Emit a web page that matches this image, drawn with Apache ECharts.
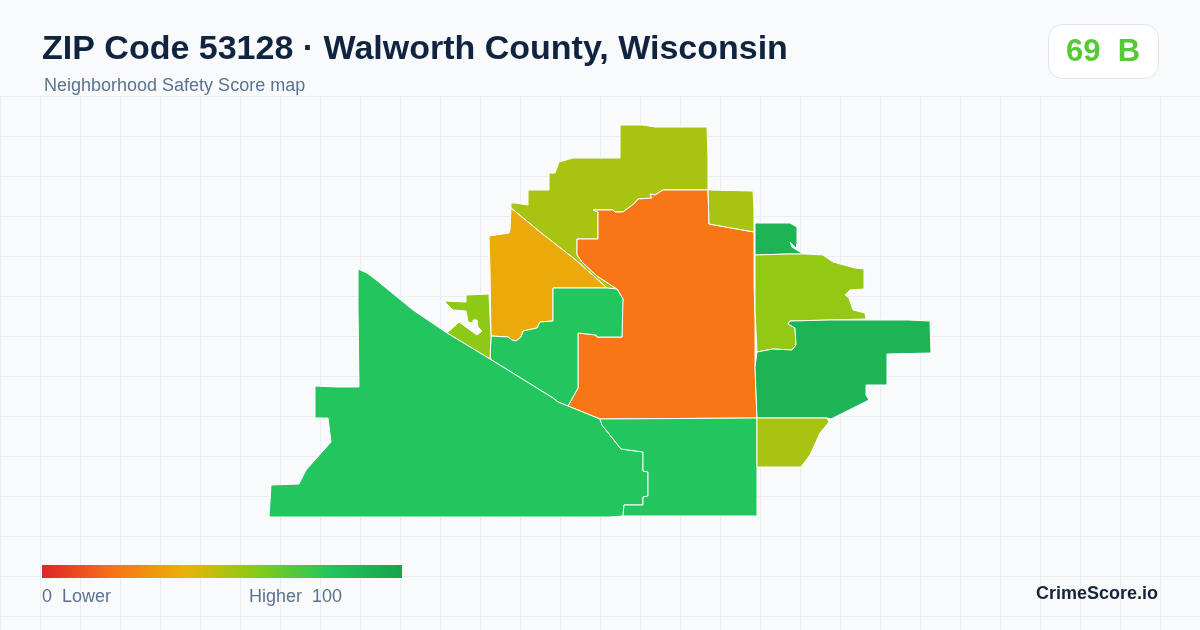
<!DOCTYPE html>
<html>
<head>
<meta charset="utf-8">
<title>ZIP Code 53128</title>
<style>
html,body{margin:0;padding:0;background:#f8fafc;}
#main{width:1200px;height:630px;}
</style>
<script src="https://cdn.jsdelivr.net/npm/echarts@6/dist/echarts.min.js"></script>
</head>
<body>
<div id="main"></div>
<script>
// values
var overallScore = 69;
var overallGrade = 'B';
var scoreStops = ['#dc2626', '#f97316', '#eab308', '#84cc16', '#22c55e', '#16a34a'];
var regionNames = ['north', 'amber', 'center', 'elkhorn', 'west', 'southwest', 'south', 'northeast', 'pocket', 'east', 'eastern', 'southeast'];
var regionScores = [53, 37, 21, 80, 58, 80, 80, 53, 90, 57, 90, 53];

// map units, y pointing down
var northRing = [[511,203],[515,203],[528,205],[528,190],[549,190],[549,173],[555,173],[559,162],[573,158],[620,158],[620,125],[643,125],[655,127],[707,127],[708,158],[708,190],[663,190],[655,195],[650,194],[652,198],[638,199],[635,203],[623,212],[615,212],[613,210],[598,210],[593,210],[598,212],[598,239],[577,239],[577,255],[583,263],[597,276],[617,289],[607,288],[577,261],[540,232],[511,208]];
var amberRing = [[511,208],[540,232],[577,261],[607,288],[553,288],[553,321],[540,322],[537,328],[523,331],[521,337],[516,341],[512,340],[508,337],[491,336],[490,270],[489,236],[509,233],[510,230]];
var centerRing = [[663,190],[708,190],[709,224],[754,232],[754,283],[755,320],[755,367],[757,418],[600,419],[568,406],[578,388],[578,333],[596,335],[597,337],[622,337],[622,310],[623,299],[617,289],[597,276],[583,263],[577,255],[577,239],[598,239],[598,212],[593,210],[598,210],[613,210],[615,212],[623,212],[635,203],[638,199],[652,198],[650,194],[655,195]];
var elkhornRing = [[553,288],[607,288],[617,289],[623,299],[622,337],[597,337],[596,335],[578,333],[578,388],[568,406],[558,402],[553,398],[490,359],[491,336],[508,337],[512,340],[516,341],[521,337],[523,331],[537,328],[540,322],[553,321]];
var westRing = [[444,301],[466,302],[466,295],[489,294],[491,336],[490,359],[447,333],[459,322],[477,335],[482,331],[478,327],[477,320],[473,320],[473,323],[468,322],[466,311],[453,310]];
var southwestRing = [[358,269],[367,273],[375,279],[413,310],[447,333],[490,359],[553,398],[558,402],[568,406],[600,419],[602,425],[621,449],[643,452],[643,471],[648,472],[648,496],[643,497],[643,505],[624,505],[623,516],[610,517],[269,517],[271,485],[299,484],[306,470],[331,442],[328,418],[315,418],[315,386],[336,387],[359,387],[358,310]];
var southRing = [[600,419],[757,418],[757,483],[757,516],[623,516],[624,505],[643,505],[643,497],[648,496],[648,472],[643,471],[643,452],[621,449],[602,425]];
var northeastRing = [[708,190],[753,191],[754,210],[754,232],[709,224]];
var pocketRing = [[755,223],[790,223],[797,227],[797,243],[796,248],[790,242],[792,247],[800,252],[806,254],[789,254],[755,255]];
var eastRing = [[755,255],[789,254],[806,254],[823,255],[833,262],[855,268],[864,269],[864,289],[850,290],[845,295],[849,298],[853,310],[865,313],[866,319],[830,320],[790,321],[788,324],[795,328],[796,345],[792,350],[773,349],[757,352],[755,310]];
var easternRing = [[790,321],[830,320],[908,320],[930,321],[931,353],[887,354],[887,385],[866,385],[866,395],[869,400],[831,419],[827,418],[757,418],[755,367],[757,352],[773,349],[792,350],[796,345],[795,328],[788,324]];
var southeastRing = [[757,418],[827,418],[829,422],[820,433],[810,455],[801,467],[757,467]];
var regionRings = [northRing, amberRing, centerRing, elkhornRing, westRing, southwestRing, southRing, northeastRing, pocketRing, eastRing, easternRing, southeastRing];

var features = [];
for (var i = 0; i < regionRings.length; i++) {
	var ring = regionRings[i].map(function (p) { return [p[0], -p[1]]; });
	ring.push(ring[0]);
	features.push({
		type: 'Feature',
		properties: { name: regionNames[i] },
		geometry: { type: 'Polygon', coordinates: [ring] }
	});
}
echarts.registerMap('zip53128', { type: 'FeatureCollection', features: features });

var regionData = [];
for (var j = 0; j < regionNames.length; j++) {
	regionData.push({ name: regionNames[j], value: regionScores[j] });
}

// legend bar uses the same stops as the map scale
var legendStops = scoreStops.map(function (c, k) {
	return { offset: k / (scoreStops.length - 1), color: c };
});

var myChart = echarts.init(document.getElementById('main'), null, { renderer: 'canvas' });
var font = '"Liberation Sans", Arial, sans-serif';
var gridColor = '#e8eef3';
var mutedText = '#5b7290';

var option = {
	animation: false,
	backgroundColor: '#f8fafc',
	textStyle: { fontFamily: font },
	title: [
		{
			text: 'ZIP Code 53128 · Walworth County, Wisconsin',
			left: 42, top: 33, padding: 0,
			textStyle: { fontFamily: font, fontSize: 34, fontWeight: 'bold', color: '#10243f' }
		},
		{
			text: 'Neighborhood Safety Score map',
			left: 44, top: 77, padding: 0,
			textStyle: { fontFamily: font, fontSize: 18, fontWeight: 'normal', color: mutedText }
		}
	],
	grid: { left: 0, right: 0, top: 96, bottom: 0 },
	xAxis: {
		type: 'value', min: 0, max: 1200, interval: 40,
		axisLine: { show: false }, axisTick: { show: false }, axisLabel: { show: false },
		splitLine: { show: true, lineStyle: { color: gridColor, width: 1 } }
	},
	yAxis: {
		type: 'value', min: 0, max: 534, interval: 40, inverse: true,
		axisLine: { show: false }, axisTick: { show: false }, axisLabel: { show: false },
		splitLine: { show: true, lineStyle: { color: gridColor, width: 1 } }
	},
	visualMap: {
		type: 'continuous',
		show: false,
		min: 0, max: 100,
		seriesIndex: 0,
		inRange: { color: scoreStops }
	},
	series: [{
		type: 'map',
		map: 'zip53128',
		silent: true,
		aspectScale: 1,
		roam: false,
		boundingCoords: [[0, 0], [1200, -630]],
		left: 0, top: 0, width: 1200, height: 630,
		label: { show: false },
		itemStyle: { borderColor: '#ffffff', borderWidth: 1 },
		data: regionData
	}],
	graphic: [
		{
			type: 'rect', z: 10,
			shape: { x: 42, y: 565, width: 360, height: 13 },
			style: { fill: new echarts.graphic.LinearGradient(0, 0, 1, 0, legendStops) }
		},
		{
			type: 'rect', z: 10,
			shape: { x: 1048.5, y: 24.5, width: 110, height: 54, r: 14 },
			style: { fill: '#ffffff', stroke: '#dde4ee', lineWidth: 1 }
		},
		{
			type: 'text', z: 11, x: 1103, y: 52,
			style: {
				text: overallScore + '  ' + overallGrade,
				font: 'bold 31px ' + font, fill: '#58c936',
				textAlign: 'center', textVerticalAlign: 'middle'
			}
		},
		{
			type: 'text', z: 11, x: 42, y: 597,
			style: { text: '0  Lower', font: '18px ' + font, fill: mutedText, textVerticalAlign: 'middle' }
		},
		{
			type: 'text', z: 11, x: 249, y: 597,
			style: { text: 'Higher  100', font: '18px ' + font, fill: mutedText, textVerticalAlign: 'middle' }
		},
		{
			type: 'text', z: 11, x: 1158, y: 594,
			style: { text: 'CrimeScore.io', font: 'bold 18px ' + font, fill: '#15233b', textAlign: 'right', textVerticalAlign: 'middle' }
		}
	]
};
myChart.setOption(option);
</script>
</body>
</html>
